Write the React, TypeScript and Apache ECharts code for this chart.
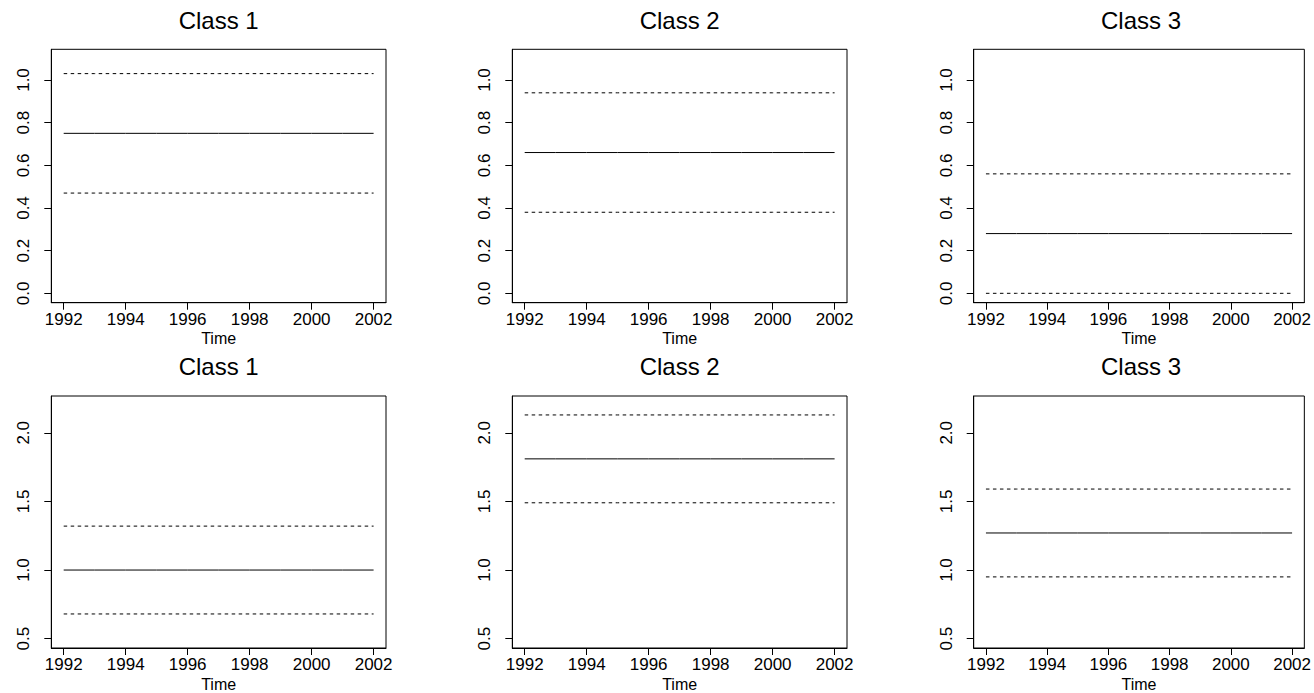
import React, { useEffect, useRef } from "react";
import * as echarts from "echarts";

const years = [1992, 1993, 1994, 1995, 1996, 1997, 1998, 1999, 2000, 2001, 2002];
const xTicks = [1992, 1994, 1996, 1998, 2000, 2002];
const classNames = ["Class 1", "Class 2", "Class 3"];

// Top row (probabilities)
const topMean = [0.75, 0.66, 0.28];
const topUpper = [1.03, 0.94, 0.56];
const topLower = [0.47, 0.38, 0.0];
const topTicks = [0.0, 0.2, 0.4, 0.6, 0.8, 1.0];

// Bottom row
const botMean = [1.0, 1.81, 1.27];
const botUpper = [1.32, 2.13, 1.59];
const botLower = [0.68, 1.49, 0.95];
const botTicks = [0.5, 1.0, 1.5, 2.0];

const FONT = "Liberation Sans, Arial, Helvetica, sans-serif";

export default function App() {
  const ref = useRef<HTMLDivElement>(null);
  useEffect(() => {
    if (!ref.current) return;
    const chart = echarts.init(ref.current, null, { renderer: "svg" });
    const cols = [
      { left: 51.3, right: 386 },
      { left: 512.3, right: 847 },
      { left: 973.7, right: 1308.3 },
    ];
    const rows = [
      { top: 49.3, bottom: 302.7, min: -0.044, max: 1.144, ticks: topTicks, mean: topMean, upper: topUpper, lower: topLower },
      { top: 396, bottom: 649.3, min: 0.432, max: 2.268, ticks: botTicks, mean: botMean, upper: botUpper, lower: botLower },
    ];
    const grid: any[] = [];
    const xAxis: any[] = [];
    const yAxis: any[] = [];
    const series: any[] = [];
    const graphic: any[] = [];
    let gi = 0;
    rows.forEach((r, ri) => {
      cols.forEach((c, ci) => {
        grid.push({
          left: c.left,
          top: r.top,
          width: c.right - c.left,
          height: r.bottom - r.top,
          show: true,
          borderColor: "#000",
          borderWidth: 1,
          backgroundColor: "transparent",
        });
        xAxis.push({
          type: "value",
          gridIndex: gi,
          min: 1991.6,
          max: 2002.4,
          axisLine: { show: true, onZero: false, lineStyle: { color: "#000", width: 1 } },
          axisTick: { show: true, inside: false, length: 7, customValues: xTicks, lineStyle: { color: "#000" } },
          axisLabel: { show: true, customValues: xTicks, fontSize: 17, color: "#000", margin: 8, fontFamily: FONT, formatter: (v: number) => String(v) },
          splitLine: { show: false },
          name: "Time",
          nameLocation: "middle",
          nameGap: 28,
          nameTextStyle: { fontSize: 16, color: "#000", fontFamily: FONT },
        });
        yAxis.push({
          type: "value",
          gridIndex: gi,
          min: r.min,
          max: r.max,
          axisLine: { show: true, onZero: false, lineStyle: { color: "#000", width: 1 } },
          axisTick: { show: true, inside: false, length: 7, customValues: r.ticks, lineStyle: { color: "#000" } },
          axisLabel: { show: true, customValues: r.ticks, fontSize: 17, color: "#000", margin: 19, rotate: 90, fontFamily: FONT, formatter: (v: number) => v.toFixed(1) },
          splitLine: { show: false },
        });
        const mk = (vals: number[], dashed: boolean) => ({
          type: "line",
          xAxisIndex: gi,
          yAxisIndex: gi,
          symbol: "none",
          silent: true,
          data: years.map((y) => [y, vals[ci]]),
          lineStyle: { color: "#000", width: 1, type: dashed ? [3.5, 3.5] : "solid" },
        });
        series.push(mk(r.upper, true), mk(r.mean, false), mk(r.lower, true));
        graphic.push({
          type: "text",
          x: (c.left + c.right) / 2,
          y: ri * 346 + 20.5,
          style: { text: classNames[ci], fontSize: 24, fontFamily: FONT, fill: "#000", textAlign: "center", textVerticalAlign: "middle" },
        });
        gi++;
      });
    });
    chart.setOption({
      animation: false,
      backgroundColor: "#fff",
      grid,
      xAxis,
      yAxis,
      series,
      graphic,
    });
    return () => chart.dispose();
  }, []);
  return <div ref={ref} style={{ position: "absolute", left: 0, top: 0, width: 1314, height: 693 }} />;
}
